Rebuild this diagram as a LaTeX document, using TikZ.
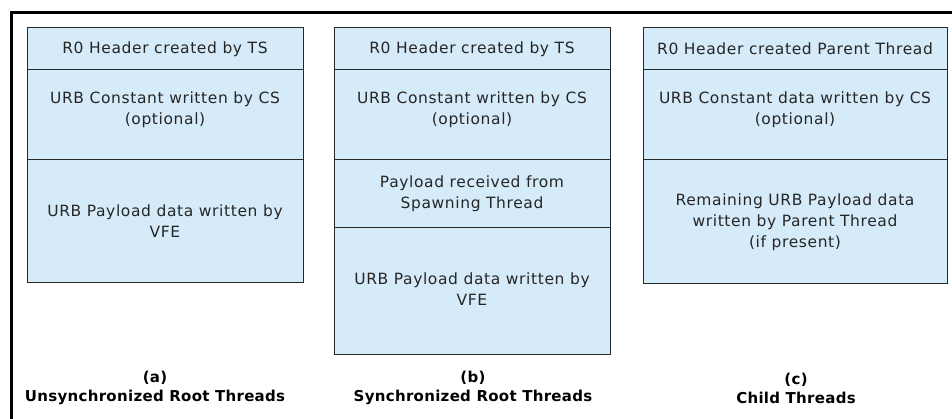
\documentclass[tikz,border=0pt]{standalone}
\usepackage{fontspec}
\setmainfont{DejaVu Sans}
\newfontfamily\boxfont{DejaVu Sans}[LetterSpace=4]
\newfontfamily\capfont{DejaVu Sans}[LetterSpace=2]
\definecolor{secfill}{RGB}{214,235,249}
\definecolor{secline}{RGB}{40,40,40}
\begin{document}
\begin{tikzpicture}[x=1pt,y=-1pt,
  sec/.style={draw=secline, fill=secfill, line width=1pt, anchor=north west,
              inner sep=0pt, outer sep=0pt},
  txt/.style={align=center, inner sep=0pt, font=\boxfont\fontsize{15.5}{21}\selectfont, text=black!85},
  captext/.style={align=center, inner sep=0pt, font=\capfont\fontsize{15}{19}\selectfont\bfseries, text=black}]
\useasboundingbox (0,0) rectangle (952,419);
\fill[white] (0,0) rectangle (952,419);
% outer frame (only top and left edges visible)
\coordinate (fr1) at (952,12.5);
\coordinate (fr2) at (11,12.5);
\coordinate (fr3) at (11,419);
\draw[line width=3pt] (fr1) -- (fr2) -- (fr3);

% (a)
\node[sec, minimum width=276pt, minimum height=42pt] (a1) at (27,28) {};
\node[sec, minimum width=276pt, minimum height=90pt] (a2) at (27,70) {};
\node[sec, minimum width=276pt, minimum height=123pt] (a3) at (27,160) {};
\node[txt] (ta1) at (a1.center) {R0 Header created by TS};
\node[txt] (ta2) at ([yshift=5pt]a2.center) {URB Constant written by CS\\(optional)};
\node[txt] (ta3) at (a3.center) {URB Payload data written by\\VFE};

% (b)
\node[sec, minimum width=276pt, minimum height=42pt] (b1) at (334,28) {};
\node[sec, minimum width=276pt, minimum height=90pt] (b2) at (334,70) {};
\node[sec, minimum width=276pt, minimum height=68pt] (b3) at (334,160) {};
\node[sec, minimum width=276pt, minimum height=126pt] (b4) at (334,228) {};
\node[txt] (tb1) at (b1.center) {R0 Header created by TS};
\node[txt] (tb2) at ([yshift=5pt]b2.center) {URB Constant written by CS\\(optional)};
\node[txt] (tb3) at (b3.center) {Payload received from\\Spawning Thread};
\node[txt] (tb4) at ([yshift=2pt]b4.center) {URB Payload data written by\\VFE};

% (c)
\node[sec, minimum width=304pt, minimum height=42pt] (c1) at (643,28) {};
\node[sec, minimum width=304pt, minimum height=90pt] (c2) at (643,70) {};
\node[sec, minimum width=304pt, minimum height=124pt] (c3) at (643,160) {};
\node[txt] (tc1) at (c1.center) {R0 Header created Parent Thread};
\node[txt] (tc2) at ([yshift=5pt]c2.center) {URB Constant data written by CS\\(optional)};
\node[txt] (tc3) at (c3.center) {Remaining URB Payload data\\written by Parent Thread\\(if present)};

% captions
\node[captext] (capa) at (155,388) {(a)\\Unsynchronized Root Threads};
\node[captext] (capb) at (473,388) {(b)\\Synchronized Root Threads};
\node[captext] (capc) at (796,388) {(c)\\Child Threads};
\end{tikzpicture}
\end{document}
